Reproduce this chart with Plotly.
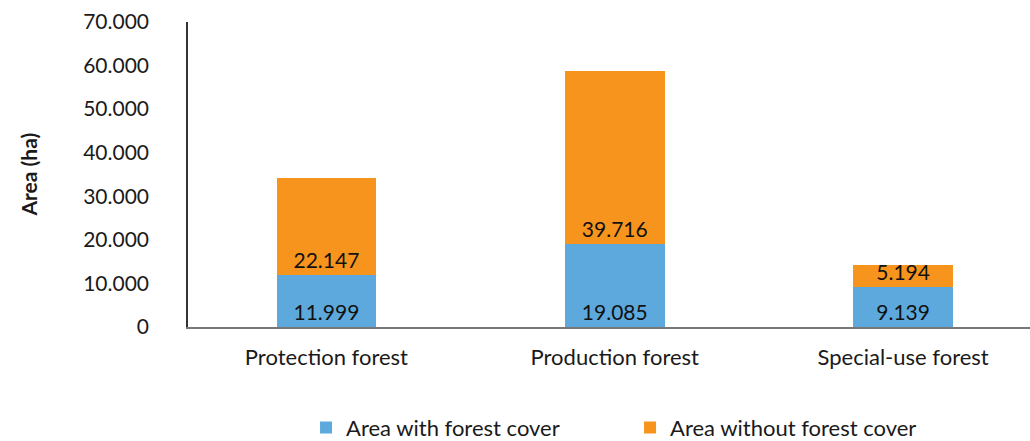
import plotly.graph_objects as go

categories = ["Protection forest", "Production forest", "Special-use forest"]
with_cover = [11999, 19085, 9139]
without_cover = [22147, 39716, 5194]
series_names = ["Area with forest cover", "Area without forest cover"]
y_ticks = [0, 10000, 20000, 30000, 40000, 50000, 60000, 70000]

FONT = "Lato"
TXT = "#1a1a1a"
fig = go.Figure()
fig.add_trace(go.Bar(
    x=categories, y=with_cover, name=series_names[0],
    marker=dict(color="#5DA9DD", line=dict(width=0)),
    texttemplate="%{y:,d}", textposition="inside", insidetextanchor="start",
    constraintext="none",
    textfont=dict(family=FONT, size=21, color="#111111"),
))
fig.add_trace(go.Bar(
    x=categories, y=without_cover, name=series_names[1],
    marker=dict(color="#F7941D", line=dict(width=0)),
    texttemplate="%{y:,d}", textposition="inside", insidetextanchor="start",
    constraintext="none",
    textfont=dict(family=FONT, size=21, color="#111111"),
))

fig.update_layout(
    barmode="stack",
    bargap=0.655,
    separators=",.",
    width=1030, height=441,
    margin=dict(l=188, r=0, t=22, b=114, autoexpand=False),
    paper_bgcolor="white", plot_bgcolor="white",
    font=dict(family=FONT, size=21, color=TXT),
    legend=dict(
        orientation="h", x=0.525, xanchor="center", y=-0.33, yanchor="middle",
        font=dict(family=FONT, size=22, color=TXT),
        entrywidth=279, entrywidthmode="pixels",
        traceorder="normal",
    ),
    showlegend=True,
    annotations=[dict(
        text="<b>Area (ha)</b>", textangle=-90, showarrow=False,
        xref="paper", yref="paper", x=0, y=0.5, xanchor="center", yanchor="middle",
        xshift=-160, font=dict(family=FONT, size=21, color=TXT),
    )],
)
fig.update_yaxes(
    range=[0, 70000], tickvals=y_ticks, tickformat=",d",
    showgrid=False, zeroline=False, automargin=False,
    showline=True, linecolor="#333333", linewidth=1.5,
    ticks="", ticklabelstandoff=33,
    tickfont=dict(family=FONT, size=21, color=TXT),
)
fig.update_xaxes(
    range=[-0.48, 2.44],
    showgrid=False, showline=True, linecolor="#777777", linewidth=2,
    ticks="", ticklabelstandoff=10, automargin=False,
    tickfont=dict(family=FONT, size=22, color=TXT),
)

fig.write_html("out.html", config={"displayModeBar": False},
               post_script="document.body.style.margin='0';")
